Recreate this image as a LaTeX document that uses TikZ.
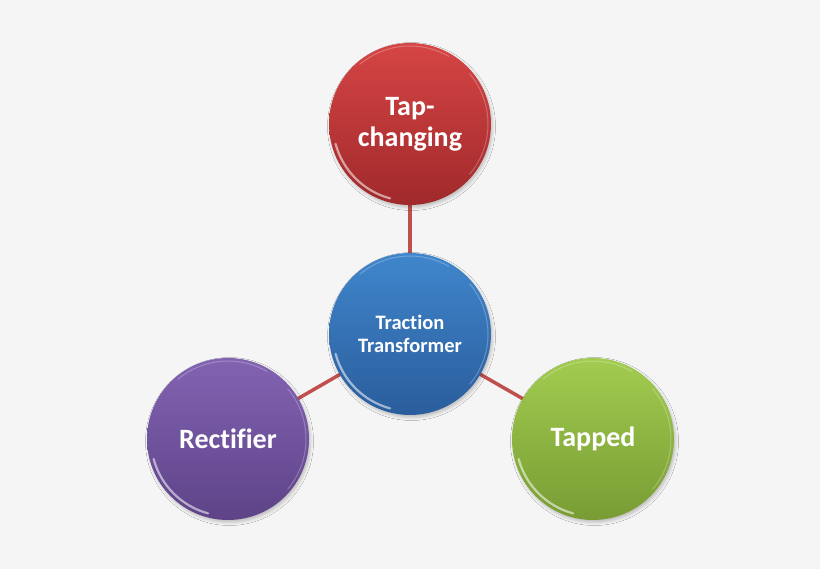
\documentclass[tikz,border=0pt]{standalone}
\usepackage{fontspec}
\setmainfont[Ligatures=NoCommon]{Carlito}
\usetikzlibrary{shadows.blur}
\definecolor{bgc}{HTML}{F5F5F5}
\definecolor{linec}{HTML}{C0504D}
\definecolor{redT}{HTML}{D64545}
\definecolor{redB}{HTML}{A0292B}
\definecolor{bluT}{HTML}{4086CC}
\definecolor{bluB}{HTML}{2A5D9C}
\definecolor{purT}{HTML}{8263B2}
\definecolor{purB}{HTML}{5E4388}
\definecolor{grnT}{HTML}{A2CC50}
\definecolor{grnB}{HTML}{789C33}
\tikzset{
  ball/.style={circle, minimum size=162pt, inner sep=0pt, text=white, align=center,
    blur shadow={shadow xshift=1.5pt, shadow yshift=-2.5pt, shadow blur radius=3pt, shadow opacity=22}},
  bigtxt/.style={font=\bfseries\fontsize{28}{31}\selectfont},
  smalltxt/.style={font=\bfseries\fontsize{20.5}{23}\selectfont},
  conn/.style={draw=linec, line width=3.5pt},
  glint/.style={white, line width=2.2pt, opacity=0.55, line cap=round},
  rim/.style={white, line width=1pt, opacity=0.25, line cap=round}
}
\begin{document}
\begin{tikzpicture}[x=1pt,y=1pt]
\fill[bgc] (0,0) rectangle (820,569);
\useasboundingbox (0,0) rectangle (820,569);
% connectors drawn first
\coordinate (cR) at (410,445);
\coordinate (cB) at (410,235);
\coordinate (cP) at (228,130);
\coordinate (cG) at (593,130);
\draw[conn] (cB) -- (cR);
\draw[conn] (cB) -- (cP);
\draw[conn] (cB) -- (cG);
% balls
\node[ball, top color=redT, bottom color=redB, bigtxt] (red) at (cR) {Tap-\\changing};
\node[ball, top color=bluT, bottom color=bluB, smalltxt] (blue) at (cB) {Traction\\Transformer};
\node[ball, top color=purT, bottom color=purB, bigtxt] (pur) at (cP) {Rectifier};
\node[ball, top color=grnT, bottom color=grnB, bigtxt] (grn) at (cG) {Tapped};
% highlights
\foreach \n in {red,blue,pur,grn}{
  \draw[glint] ([shift={(195:77)}]\n.center) arc (195:255:77);
  \draw[rim] ([shift={(-40:78)}]\n.center) arc (-40:40:78);
  \draw[rim] ([shift={(60:78)}]\n.center) arc (60:130:78);
}
\end{tikzpicture}
\end{document}
